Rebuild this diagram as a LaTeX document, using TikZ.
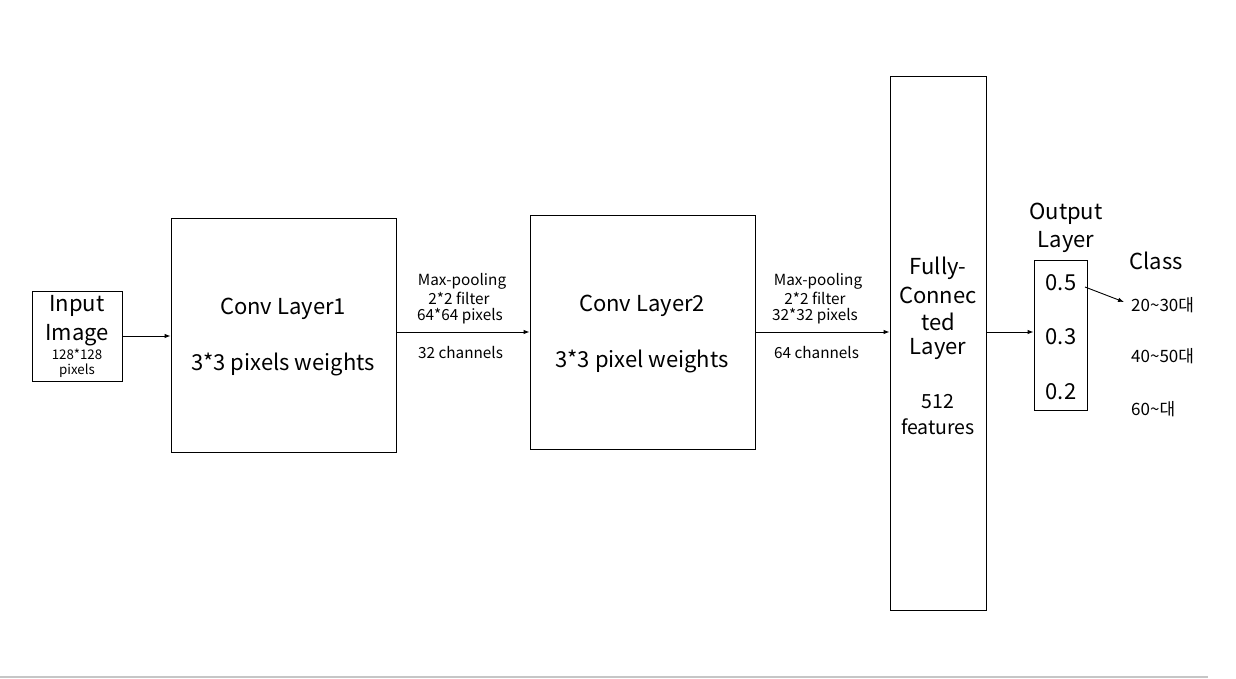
\documentclass[tikz,border=0pt]{standalone}
\usepackage{fontspec}
\setmainfont{Noto Sans CJK KR}
\usetikzlibrary{arrows.meta}
\begin{document}
\begin{tikzpicture}[x=1pt,y=-1pt,
  box/.style={draw,line width=0.9pt,inner sep=0pt},
  conn/.style={line width=0.9pt,-{Latex[length=6pt,width=4.5pt]}},
  big/.style={font=\fontsize{22}{26}\selectfont,inner sep=0pt},
  mid/.style={font=\fontsize{19.5}{23}\selectfont,inner sep=0pt},
  small/.style={font=\fontsize{15.3}{18}\selectfont,inner sep=0pt},
  kor/.style={font=\fontsize{17}{20}\selectfont,inner sep=0pt},
  tiny/.style={font=\fontsize{13.3}{16}\selectfont,inner sep=0pt}]
\useasboundingbox (0,0) rectangle (1236,679);
% page rule
\draw[gray!45,line width=1.2pt] (0,677) -- (1208,677);

% boxes
\node[box,minimum width=90pt,minimum height=90pt] (inp) at (77,336) {};
\node[box,minimum width=225pt,minimum height=234pt] (c1) at (283.5,335) {};
\node[box,minimum width=225pt,minimum height=234pt] (c2) at (642.5,332) {};
\node[box,minimum width=96pt,minimum height=534pt] (fc) at (938,343) {};
\node[box,minimum width=53pt,minimum height=150pt] (out) at (1060.5,335) {};

% input box text
\node[big] (t1) at (77,306) {Input};
\node[big] (t2) at (77,335) {Image};
\node[tiny] (t3) at (77,354) {128*128};
\node[tiny] (t4) at (77,371) {pixels};

% conv layers text
\node[big] (c1a) at (283,309) {Conv Layer1};
\node[big] (c1b) at (283,364) {3*3 pixels weights};
\node[big] (c2a) at (642,306) {Conv Layer2};
\node[big] (c2b) at (642,361) {3*3 pixel weights};

% fully connected text
\node[big] (f1) at (938,268) {Fully-};
\node[big] (f2) at (938,295) {Connec};
\node[big] (f3) at (938,322) {ted};
\node[big] (f4) at (938,349) {Layer};
\node[mid] (f5) at (938,402) {512};
\node[mid] (f6) at (938,427) {features};

% pooling labels
\node[small] (p1) at (462,281) {Max-pooling};
\node[small] (p2) at (459,298) {2*2 filter};
\node[small] (p3) at (460,316) {64*64 pixels};
\node[small,anchor=west] (p4) at (418,353) {32 channels};
\node[small] (q1) at (818,281) {Max-pooling};
\node[small] (q2) at (815,298) {2*2 filter};
\node[small] (q3) at (815,316) {32*32 pixels};
\node[small,anchor=west] (q4) at (774,353) {64 channels};

% output layer
\node[big] (o1) at (1066,214) {Output};
\node[big] (o2) at (1066,242) {Layer};
\node[big] (v1) at (1061,283) {0.5};
\node[big] (v2) at (1061,337) {0.3};
\node[big] (v3) at (1061,392) {0.2};

% classes
\node[big] (cl) at (1156,261) {Class};
\node[kor,anchor=west] (k1) at (1131,305) {20\textasciitilde 30대};
\node[kor,anchor=west] (k2) at (1131,356) {40\textasciitilde 50대};
\node[kor,anchor=west] (k3) at (1131,409) {60\textasciitilde 대};

% connectors
\draw[conn] (inp.east |- 0,336) -- (c1.west |- 0,336);
\draw[conn] (c1.east |- 0,332) -- (c2.west |- 0,332);
\draw[conn] (c2.east |- 0,332) -- (fc.west |- 0,332);
\draw[conn] (fc.east |- 0,332) -- (out.west |- 0,332);
\coordinate (v1s) at (1085,287);
\coordinate (k1t) at (1124,302);
\draw[conn] (v1s) -- (k1t);
\end{tikzpicture}
\end{document}
